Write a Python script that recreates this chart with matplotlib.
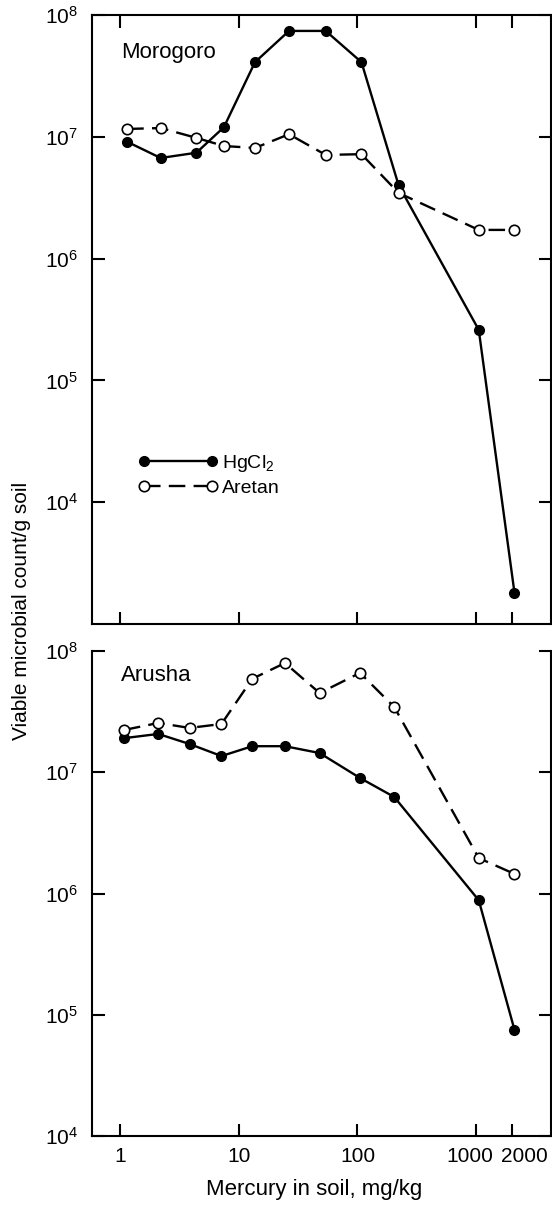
import matplotlib
matplotlib.use('Agg')
import matplotlib.pyplot as plt
import matplotlib.transforms as mtransforms
from matplotlib.ticker import FixedLocator, NullLocator, FixedFormatter, LogFormatterSciNotation

plt.rcParams['font.family'] = ['Liberation Sans', 'DejaVu Sans']
plt.rcParams['mathtext.fontset'] = 'custom'
plt.rcParams['mathtext.rm'] = 'Liberation Sans'
plt.rcParams['mathtext.it'] = 'Liberation Sans:italic'
plt.rcParams['mathtext.bf'] = 'Liberation Sans:bold'

# ---- data ----
x_ticks = [1, 10, 100, 1000, 2000]
x_tick_labels = ['1', '10', '100', '1000', '2000']
y_ticks = [1e4, 1e5, 1e6, 1e7, 1e8]

x_morogoro = [1.15, 2.2, 4.4, 7.5, 13.7, 26.5, 54, 108, 222, 1050, 2100]
hg_morogoro = [9.1e6, 6.7e6, 7.4e6, 1.2e7, 4.1e7, 7.4e7, 7.4e7, 4.1e7, 4.0e6, 2.6e5, 1.8e3]
ar_morogoro = [1.16e7, 1.18e7, 9.8e6, 8.4e6, 8.1e6, 1.05e7, 7.1e6, 7.2e6, 3.46e6, 1.72e6, 1.72e6]

x_arusha = [1.08, 2.1, 3.85, 7.15, 13, 24.5, 48, 105, 204, 1050, 2100]
hg_arusha = [1.91e7, 2.07e7, 1.71e7, 1.36e7, 1.64e7, 1.64e7, 1.44e7, 8.97e6, 6.25e6, 8.8e5, 7.5e4]
ar_arusha = [2.23e7, 2.55e7, 2.32e7, 2.5e7, 5.9e7, 7.96e7, 4.5e7, 6.6e7, 3.45e7, 1.96e6, 1.45e6]

series_labels = ['HgCl$_\\mathregular{2}$', 'Aretan']
panel_titles = ['Morogoro', 'Arusha']

# ---- figure ----
W, H = 552, 1207
fig = plt.figure(figsize=(W / 100, H / 100), dpi=100)
ax1 = fig.add_axes([92 / W, 1 - 624 / H, 459 / W, 609 / H])
ax2 = fig.add_axes([92 / W, 1 - 1136 / H, 459 / W, 485 / H])

hg_style = dict(color='black', lw=1.7, marker='o', ms=7, mfc='black', mec='black')
ar_style = dict(color='black', lw=1.7, ls=(0, (7, 3.5)), marker='o', ms=7.5,
                mfc='white', mec='black', mew=1.2)

ax1.plot(x_morogoro, hg_morogoro, label=series_labels[0], **hg_style)
ax1.plot(x_morogoro, ar_morogoro, label=series_labels[1], **ar_style)
ax2.plot(x_arusha, hg_arusha, **hg_style)
ax2.plot(x_arusha, ar_arusha, **ar_style)

for ax, ylo in ((ax1, 1e3), (ax2, 1e4)):
    ax.set_xscale('log')
    ax.set_yscale('log')
    ax.set_xlim(0.581, 4262)
    ax.set_ylim(ylo, 1e8)
    ax.xaxis.set_major_locator(FixedLocator(x_ticks))
    ax.xaxis.set_major_formatter(FixedFormatter(x_tick_labels))
    ax.xaxis.set_minor_locator(NullLocator())
    ax.yaxis.set_major_locator(FixedLocator(y_ticks))
    ax.yaxis.set_major_formatter(LogFormatterSciNotation())
    ax.yaxis.set_minor_locator(NullLocator())
    for sp in ax.spines.values():
        sp.set_linewidth(1.5)
    ax.tick_params(axis='both', which='major', direction='in', length=9, width=1.5)
    ax.tick_params(axis='y', labelsize=15, pad=10, left=True, right=True)
    ax.tick_params(axis='x', labelsize=15, pad=8)

ax1.tick_params(axis='x', top=True, bottom=True, labelbottom=False)
ax2.tick_params(axis='x', top=False, bottom=True, labelbottom=True)
ax2.spines['top'].set_visible(False)

# nudge the crowded 1000 / 2000 labels apart, as in the original
fig.canvas.draw()
offsets = {'1000': -6, '2000': 12}
for lab in ax2.get_xticklabels():
    dx = offsets.get(lab.get_text(), 0)
    if dx:
        lab.set_transform(lab.get_transform() +
                          mtransforms.ScaledTranslation(dx / 100, 0, fig.dpi_scale_trans))

ax1.text(0.063, 0.939, panel_titles[0], transform=ax1.transAxes, fontsize=16,
         ha='left', va='center')
ax2.text(0.063, 0.950, panel_titles[1], transform=ax2.transAxes, fontsize=16,
         ha='left', va='center')

ax1.legend(loc='center left', bbox_to_anchor=(0.100, 0.245), numpoints=2,
           handlelength=4.1, handletextpad=0.2, labelspacing=0.25, borderpad=0,
           borderaxespad=0, frameon=False, fontsize=14)

fig.text(22 / W, 1 - 611 / H, 'Viable microbial count/g soil', rotation=90,
         ha='center', va='center', fontsize=15)
fig.text(314.5 / W, 1 - 1190 / H, 'Mercury in soil, mg/kg', ha='center',
         va='center', fontsize=16)

fig.savefig('out.png', dpi=100)
